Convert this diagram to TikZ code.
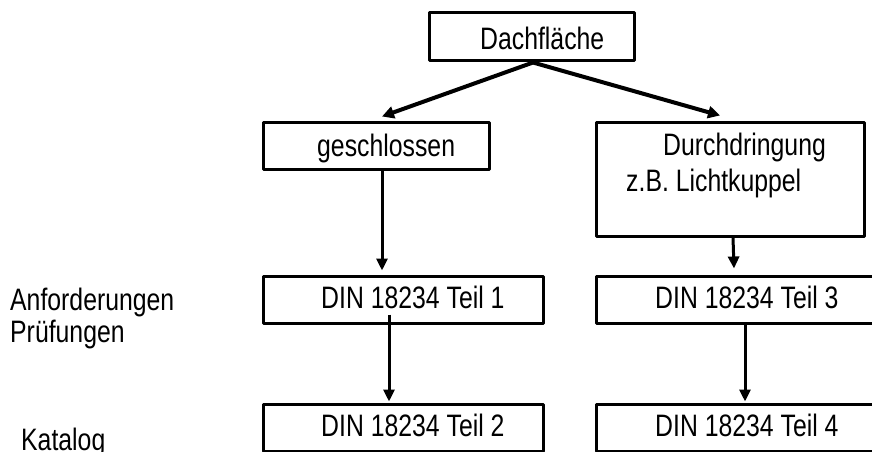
\documentclass[tikz,border=0pt]{standalone}
\usepackage{fontspec}
\setmainfont{Liberation Sans}[FakeStretch=0.8]
\usetikzlibrary{arrows.meta}
\begin{document}
\begin{tikzpicture}[x=1pt,y=-1pt,
  box/.style={draw=black,line width=3pt,line join=round,inner sep=0pt,rectangle},
  txt/.style={anchor=base west,inner sep=0pt,font=\fontsize{31}{36}\selectfont},
  thickarrow/.style={line width=4pt,-{Triangle[length=12pt,width=12pt]}},
  downarrow/.style={line width=3pt,-{Triangle[length=12pt,width=11pt]}}]
\useasboundingbox (0,0) rectangle (872,452);
\clip (0,0) rectangle (872,452);
% boxes
\node[box,minimum width=205pt,minimum height=48pt] (dach) at (531.5,37) {};
\node[box,minimum width=226pt,minimum height=47pt] (gesch) at (376,145.5) {};
\node[box,minimum width=268pt,minimum height=114pt] (durch) at (730,179) {};
\node[box,minimum width=280pt,minimum height=47pt] (t1) at (403,299.5) {};
\node[box,minimum width=280pt,minimum height=47pt] (t2) at (403,427.5) {};
\node[box,minimum width=284pt,minimum height=47pt] (t3) at (738,299.5) {};
\node[box,minimum width=284pt,minimum height=47pt] (t4) at (738,427.5) {};
% texts
\node[txt] (tdach) at (480,49) {Dachfläche};
\node[txt] (tgesch) at (317,156) {geschlossen};
\node[txt] (tdurch) at (663,155) {Durchdringung};
\node[txt] (tlicht) at (626,191) {z.B. Lichtkuppel};
\node[txt] (tt1) at (321,308) {DIN 18234 Teil 1};
\node[txt] (tt2) at (321,436) {DIN 18234 Teil 2};
\node[txt] (tt3) at (655,308) {DIN 18234 Teil 3};
\node[txt] (tt4) at (655,436) {DIN 18234 Teil 4};
\node[txt] (lanf) at (10,310) {Anforderungen};
\node[txt] (lpruef) at (10,342) {Prüfungen};
\node[txt] (lkat) at (21,450) {Katalog};
% connectors
\draw[thickarrow] ([xshift=1.5pt]dach.south) -- ([xshift=6pt,yshift=4pt]gesch.north);
\draw[thickarrow] ([xshift=1.5pt]dach.south) -- ([xshift=-10pt,yshift=5pt]durch.north);
\draw[downarrow] ([xshift=6pt]gesch.south) -- ([xshift=-21pt,yshift=4pt]t1.north);
\draw[downarrow] ([xshift=-14pt,yshift=10pt]t1.south) -- ([xshift=-14pt,yshift=1pt]t2.north);
\draw[downarrow] ([xshift=3pt]durch.south) -- ([xshift=-4pt,yshift=6pt]t3.north);
\draw[downarrow] ([xshift=7pt]t3.south) -- ([xshift=7pt,yshift=1pt]t4.north);
\end{tikzpicture}
\end{document}
